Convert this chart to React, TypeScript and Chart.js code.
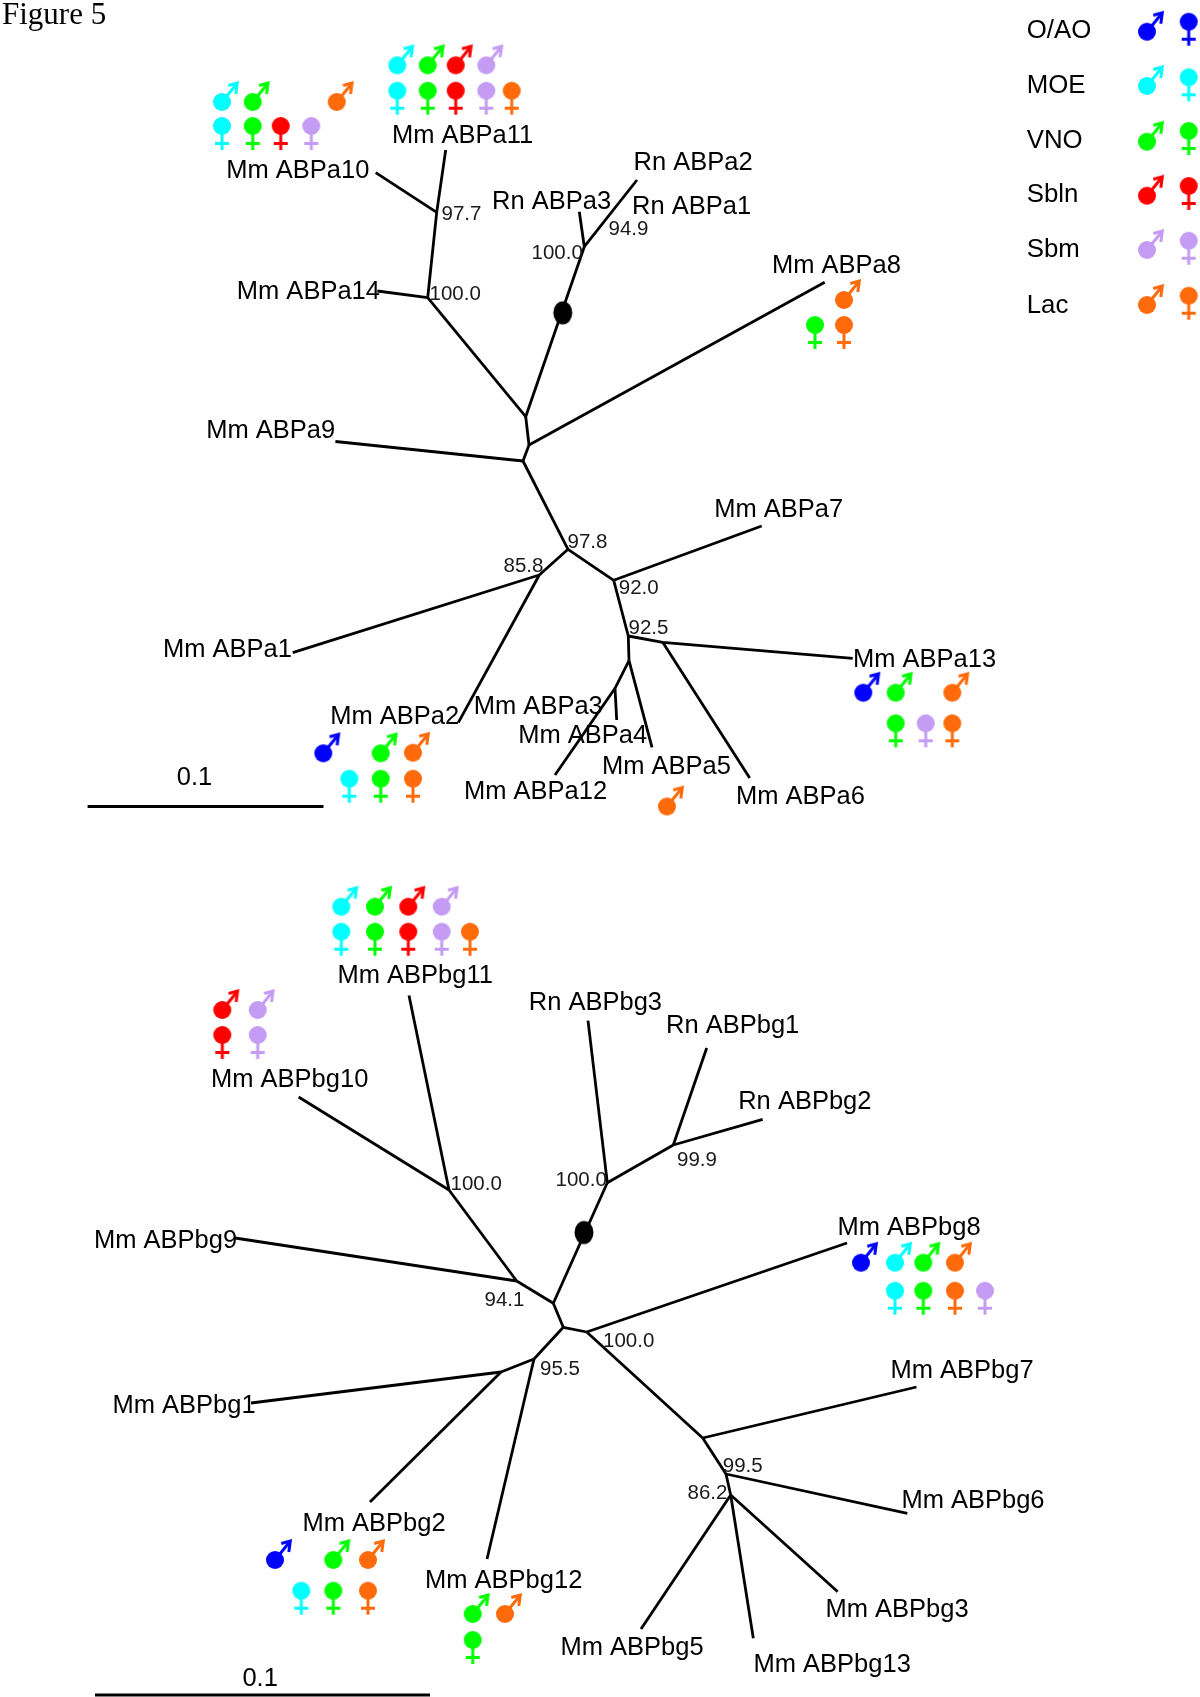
import React, { useEffect, useRef } from "react";
import { Chart, registerables } from "chart.js";

Chart.register(...registerables);

type P = [number, number];

const WIDTH = 1200;
const HEIGHT = 1697;

// Branches of the ABPa tree
const branchesA: P[][] = [
  [[375.7, 172.7], [436.7, 212.3]],
  [[445.7, 150], [436.7, 212.3], [427.7, 297.7]],
  [[377.3, 291], [427.7, 297.7]],
  [[427.7, 297.7], [525.7, 416.7]],
  [[525.7, 416.7], [584.3, 246.7]],
  [[579.3, 211.7], [584.3, 246.7]],
  [[584.3, 246.7], [637, 180]],
  [[525.7, 416.7], [529, 445]],
  [[529, 445], [824.7, 282.3]],
  [[529, 445], [523, 461]],
  [[335.4, 441.5], [523, 461]],
  [[523, 461], [568, 549.3]],
  [[568, 549.3], [539.3, 575]],
  [[292.7, 652.7], [539.3, 575]],
  [[539.3, 575], [458.3, 722.7]],
  [[568, 549.3], [613.7, 580.3]],
  [[613.7, 580.3], [761.7, 526]],
  [[613.7, 580.3], [628.3, 636]],
  [[628.3, 636], [662.7, 642.3], [852.7, 658.3]],
  [[662.7, 642.3], [749.7, 778]],
  [[628.3, 636], [629, 660.7]],
  [[629, 660.7], [652, 747.3]],
  [[629, 660.7], [615, 688.3], [555, 775]],
  [[615, 688.3], [616.7, 720]],
];

// Branches of the ABPbg tree
const branchesB: P[][] = [
  [[298.6, 1097], [449, 1190]],
  [[409, 995.5], [449, 1190]],
  [[449, 1190], [516.7, 1281]],
  [[235, 1238], [516.7, 1281]],
  [[516.7, 1281], [553.3, 1303.3]],
  [[553.3, 1303.3], [607.3, 1182.7]],
  [[588, 1020.7], [607.3, 1182.7]],
  [[607.3, 1182.7], [673.3, 1145]],
  [[706.7, 1048], [673.3, 1145]],
  [[673.3, 1145], [762.7, 1119.3]],
  [[553.3, 1303.3], [563.3, 1327.3]],
  [[563.3, 1327.3], [586.7, 1332]],
  [[586.7, 1332], [847, 1243]],
  [[586.7, 1332], [702.7, 1438]],
  [[702.7, 1438], [916.5, 1387]],
  [[702.7, 1438], [726, 1474]],
  [[726, 1474], [907.3, 1513.3]],
  [[726, 1474], [730.7, 1495]],
  [[730.7, 1495], [837.7, 1591.7]],
  [[730.7, 1495], [753.3, 1638.3]],
  [[730.7, 1495], [641, 1629]],
  [[563.3, 1327.3], [534, 1359]],
  [[534, 1359], [487, 1559]],
  [[534, 1359], [501, 1372]],
  [[501, 1372], [251, 1403]],
  [[501, 1372], [370, 1502]],
];

const scaleBars: P[][] = [
  [[87.6, 806.5], [323.5, 806.5]],
  [[95, 1695], [430, 1695]],
];

const rootMarkers: P[] = [[562.8, 312.8], [584, 1232.5]];

// Tip names
const tipLabels: [string, number, number][] = [
  ["Mm ABPa10", 226.2, 177.7],
  ["Mm ABPa11", 392, 143.3],
  ["Mm ABPa14", 236.8, 299.3],
  ["Rn ABPa3", 492, 209],
  ["Rn ABPa2", 633.5, 170],
  ["Rn ABPa1", 632, 214],
  ["Mm ABPa8", 772, 272.7],
  ["Mm ABPa7", 714.2, 516.7],
  ["Mm ABPa9", 206.2, 438.4],
  ["Mm ABPa1", 163, 657],
  ["Mm ABPa13", 853, 666.5],
  ["Mm ABPa2", 330.2, 724],
  ["Mm ABPa3", 473.8, 713.7],
  ["Mm ABPa4", 518.2, 742.7],
  ["Mm ABPa5", 602, 773.7],
  ["Mm ABPa12", 464, 799.3],
  ["Mm ABPa6", 736, 804],
  ["Mm ABPbg11", 337.5, 983.3],
  ["Mm ABPbg10", 211, 1087],
  ["Rn ABPbg3", 528.8, 1010],
  ["Rn ABPbg1", 666, 1033.3],
  ["Rn ABPbg2", 738.2, 1109],
  ["Mm ABPbg9", 94, 1247.8],
  ["Mm ABPbg8", 837.5, 1235],
  ["Mm ABPbg7", 890.5, 1377.6],
  ["Mm ABPbg1", 112.5, 1413.3],
  ["Mm ABPbg6", 901.4, 1508.3],
  ["Mm ABPbg2", 302.5, 1531],
  ["Mm ABPbg12", 425, 1588.3],
  ["Mm ABPbg3", 825.5, 1617.3],
  ["Mm ABPbg5", 560.5, 1654.6],
  ["Mm ABPbg13", 753.5, 1672],
  ["0.1", 176.8, 784.6],
  ["0.1", 242.4, 1685.7],
];

const legendLabels: [string, number, number][] = [
  ["O/AO", 1026.7, 38.3],
  ["MOE", 1026.7, 93.3],
  ["VNO", 1026.7, 148.3],
  ["Sbln", 1026.7, 201.7],
  ["Sbm", 1026.7, 257.3],
  ["Lac", 1026.7, 312.7],
];

// Bootstrap support values
const supportLabels: [string, number, number][] = [
  ["97.7", 441.5, 220],
  ["100.0", 429.5, 300],
  ["100.0", 531.5, 259],
  ["94.9", 608.5, 235],
  ["97.8", 567.5, 548.3],
  ["85.8", 503.5, 572],
  ["92.0", 618.8, 594],
  ["92.5", 628.5, 634],
  ["100.0", 555.5, 1186],
  ["99.9", 677, 1166],
  ["100.0", 450.5, 1189.6],
  ["94.1", 484.5, 1305.7],
  ["100.0", 603, 1346.7],
  ["95.5", 540, 1375],
  ["99.5", 722.8, 1471.7],
  ["86.2", 687.5, 1499],
];

// Expression marks: one list per tissue and sex
const oaoMale: P[] = [[1147, 31.7], [863.3, 692.7], [323.3, 753.3], [861, 1262.7], [275, 1560]];
const oaoFemale: P[] = [[1188.7, 21.7]];
const moeMale: P[] = [[1147, 86], [397.3, 65.3], [222, 102], [341.3, 906.7], [895, 1262.7]];
const moeFemale: P[] = [[1188.7, 77.3], [397.3, 90.7], [222, 126], [349.3, 778.7], [341.3, 931.7], [895, 1290.7], [301.3, 1590.7]];
const vnoMale: P[] = [[1147, 141.7], [427.7, 65.3], [252.7, 102], [895.7, 692.7], [380.7, 753.3], [375, 906.7], [923.3, 1262.7], [333.3, 1560], [472.7, 1614]];
const vnoFemale: P[] = [[1188.7, 131], [427.7, 90.7], [252.7, 126], [815, 325], [895.7, 723.3], [380.7, 778.7], [375, 931.7], [923.3, 1290.7], [333.3, 1590.7], [472.7, 1640]];
const sblnMale: P[] = [[1147, 195.7], [455.7, 65.3], [408.3, 906.7], [222.3, 1010]];
const sblnFemale: P[] = [[1188.7, 186], [455.7, 90.7], [280.7, 126], [408.3, 931.7], [222.3, 1035]];
const sbmMale: P[] = [[1147, 250], [486.3, 65.3], [441.7, 906.7], [257.7, 1010]];
const sbmFemale: P[] = [[1188.7, 240.7], [486.3, 90.7], [311.3, 126], [925.7, 723.3], [441.7, 931.7], [257.7, 1035], [985, 1290.7]];
const lacMale: P[] = [[1147, 305], [336.7, 102], [844, 300], [952.3, 692.7], [413, 752.7], [667, 806.5], [955, 1262.7], [368, 1560], [505, 1614]];
const lacFemale: P[] = [[1188.7, 295.7], [511.7, 90.7], [844, 325], [952.3, 723.3], [413, 778.7], [470, 931.7], [955, 1290.7], [368, 1590.7]];

const BLUE = "#0000ff";
const CYAN = "#00ffff";
const GREEN = "#00ff00";
const RED = "#ff0000";
const PURPLE = "#c49cf4";
const ORANGE = "#ff6a0a";

function glyph(color: string, male: boolean): HTMLCanvasElement {
  const c = document.createElement("canvas");
  c.width = 64;
  c.height = 64;
  const g = c.getContext("2d")!;
  const o = 32;
  g.fillStyle = color;
  g.strokeStyle = color;
  g.lineWidth = 3;
  g.beginPath();
  g.arc(o, o, 9, 0, Math.PI * 2);
  g.fill();
  g.beginPath();
  if (male) {
    const tx = o + 15.3;
    const ty = o - 19;
    g.moveTo(o, o);
    g.lineTo(tx - 0.5, ty + 0.8);
    g.stroke();
    g.beginPath();
    g.moveTo(tx - 9, ty + 2.5);
    g.lineTo(tx, ty);
    g.lineTo(tx - 1.5, ty + 11);
    g.lineJoin = "miter";
    g.stroke();
  } else {
    g.moveTo(o, o);
    g.lineTo(o, o + 24);
    g.moveTo(o - 7, o + 17.6);
    g.lineTo(o + 7, o + 17.6);
    g.stroke();
  }
  return c;
}

function oval(): HTMLCanvasElement {
  const c = document.createElement("canvas");
  c.width = 30;
  c.height = 30;
  const g = c.getContext("2d")!;
  g.fillStyle = "#000";
  g.beginPath();
  g.ellipse(15, 15, 9.5, 11.5, 0, 0, Math.PI * 2);
  g.fill();
  return c;
}

const toXY = (pts: P[]) => pts.map(([x, y]) => ({ x, y }));

export default function App() {
  const ref = useRef<HTMLCanvasElement>(null);
  useEffect(() => {
    document.body.style.margin = "0";
    const lines = [...branchesA, ...branchesB, ...scaleBars].map((b) => ({
      data: toXY(b),
      showLine: true,
      borderColor: "#000",
      borderWidth: 2.8,
      borderCapStyle: "butt" as const,
      borderJoinStyle: "miter" as const,
      pointRadius: 0,
      tension: 0,
    }));
    const marks: [P[], string, boolean][] = [
      [oaoMale, BLUE, true],
      [oaoFemale, BLUE, false],
      [moeMale, CYAN, true],
      [moeFemale, CYAN, false],
      [vnoMale, GREEN, true],
      [vnoFemale, GREEN, false],
      [sblnMale, RED, true],
      [sblnFemale, RED, false],
      [sbmMale, PURPLE, true],
      [sbmFemale, PURPLE, false],
      [lacMale, ORANGE, true],
      [lacFemale, ORANGE, false],
    ];
    const markSets = marks.map(([pts, color, male]) => ({
      data: toXY(pts),
      showLine: false,
      pointStyle: glyph(color, male),
      pointRadius: 16,
    }));
    const rootSet = {
      data: toXY(rootMarkers),
      showLine: false,
      pointStyle: oval(),
      pointRadius: 15,
    };

    const textPlugin = {
      id: "figureText",
      afterDatasetsDraw(chart: any) {
        const { ctx, scales } = chart;
        const put = (rows: [string, number, number][], font: string, color: string) => {
          ctx.save();
          ctx.font = font;
          ctx.fillStyle = color;
          ctx.textAlign = "left";
          ctx.textBaseline = "alphabetic";
          rows.forEach(([t, x, y]) =>
            ctx.fillText(t, scales.x.getPixelForValue(x), scales.y.getPixelForValue(y))
          );
          ctx.restore();
        };
        put(tipLabels, "25.5px 'Liberation Sans'", "#000");
        put(legendLabels, "25.8px 'Liberation Sans'", "#000");
        put(supportLabels, "20.5px 'Liberation Sans'", "#1a1a1a");
        put([["Figure 5", 2, 24]], "31px 'Liberation Serif'", "#000");
      },
    };

    const chart = new Chart(ref.current!, {
      type: "scatter",
      data: { datasets: [rootSet, ...markSets, ...lines] as any },
      options: {
        animation: false,
        responsive: false,
        devicePixelRatio: 1,
        layout: { padding: 0, autoPadding: false },
        clip: false as any,
        plugins: { legend: { display: false }, tooltip: { enabled: false } },
        scales: {
          x: { type: "linear", min: 0, max: WIDTH, display: false },
          y: { type: "linear", min: 0, max: HEIGHT, reverse: true, display: false },
        },
      },
      plugins: [textPlugin],
    });
    return () => chart.destroy();
  }, []);
  return (
    <div style={{ position: "absolute", left: 0, top: 0, width: WIDTH, height: HEIGHT }}>
      <canvas ref={ref} width={WIDTH} height={HEIGHT} style={{ display: "block" }} />
    </div>
  );
}
